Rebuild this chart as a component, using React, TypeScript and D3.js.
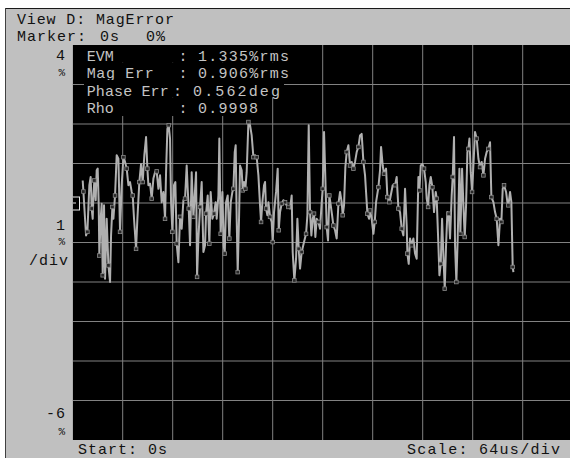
import React from "react";
import * as d3 from "d3";

// Trace: [time (us), magnitude error (%), symbol point flag]
const magErrorTrace: [number, number, number][] = [
  [12.8,0.57,0],[13.7,0.29,1],[15.8,-0.40,0],[17.1,-0.82,0],[18.8,-0.73,1],[21.3,0.45,0],[23.0,0.66,0],[24.3,-0.14,1],
  [25.6,-0.40,0],[26.5,0.19,0],[27.7,0.57,1],[29.4,0.07,0],[30.7,0.83,0],[32.0,0.87,0],[33.3,-0.06,0],[34.1,-1.33,1],
  [35.8,-0.40,0],[37.1,-0.02,0],[38.4,-1.83,1],[40.1,-0.06,0],[41.4,-1.92,0],[43.5,-0.40,0],[45.7,-1.58,1],[47.8,-2.00,0],
  [49.1,-0.82,0],[50.8,-0.10,1],[52.1,-0.40,0],[54.2,0.19,1],[56.3,1.21,0],[58.5,1.12,0],[60.6,-0.73,1],[62.7,0.45,0],
  [64.9,1.16,1],[67.0,1.04,0],[69.1,0.87,1],[71.3,0.45,0],[73.4,0.53,0],[75.5,0.28,0],[76.8,0.19,1],[78.5,-0.40,0],
  [81.1,-1.16,1],[82.8,-0.40,0],[85.3,0.53,1],[87.5,0.99,0],[89.6,0.53,1],[91.7,1.21,0],[93.9,1.67,0],[95.6,0.87,1],
  [96.9,0.45,0],[99.0,0.49,0],[101.1,0.11,1],[103.3,0.62,0],[105.4,0.78,0],[107.5,0.80,1],[109.7,0.36,0],[111.8,0.70,0],
  [113.9,0.02,0],[116.1,0.28,0],[118.2,-0.40,1],[119.5,0.78,0],[121.2,1.88,0],[122.9,1.97,1],[124.6,1.63,0],[125.9,0.02,0],
  [127.6,-0.73,1],[129.7,0.45,0],[131.4,0.53,0],[133.1,-1.03,1],[135.3,-1.50,0],[137.4,-0.35,1],[139.5,-0.65,0],[141.7,0.07,0],
  [143.8,0.11,1],[145.9,0.95,0],[147.2,0.36,0],[148.5,-0.14,1],[150.2,-1.07,0],[152.3,0.78,0],[154.5,-0.35,1],[156.2,0.19,0],
  [157.9,0.78,0],[159.2,-1.87,1],[160.9,-0.90,0],[163.0,-0.10,1],[165.1,0.53,0],[167.3,-1.24,0],[169.4,-1.07,0],[170.7,-0.27,1],
  [172.8,0.19,0],[174.9,-1.03,1],[176.6,0.28,0],[178.8,-0.40,0],[180.9,-0.27,1],[183.0,0.02,0],[184.3,-0.40,0],[186.5,0.19,0],
  [187.7,1.63,0],[189.4,-0.78,1],[191.6,0.28,0],[193.3,-1.07,0],[194.6,-1.28,1],[196.3,0.02,0],[198.4,0.19,0],[200.5,-0.90,1],
  [202.3,0.02,0],[204.4,0.28,0],[205.7,0.36,1],[207.4,1.29,0],[208.6,1.46,0],[209.9,-0.40,0],[211.2,-1.75,1],[212.9,-0.40,0],
  [214.2,0.95,0],[216.3,0.83,0],[217.6,0.32,1],[219.3,0.53,0],[221.0,0.36,1],[222.7,0.78,0],[224.9,2.05,1],[227.0,1.97,0],
  [229.1,1.71,0],[231.3,1.16,1],[233.4,1.21,0],[235.5,1.16,1],[237.7,0.70,0],[239.8,-0.06,0],[241.1,-0.48,1],[242.8,0.02,0],
  [244.9,0.45,0],[246.2,0.53,0],[247.5,-0.14,1],[249.2,-0.31,0],[250.5,0.02,0],[252.6,-0.35,1],[254.7,-0.48,0],[256.0,-0.99,1],
  [257.7,-0.23,0],[260.3,0.28,0],[262.4,0.87,0],[263.7,-0.69,1],[265.4,-0.23,0],[267.5,-0.02,1],[269.7,0.07,0],[271.8,0.02,1],
  [273.9,-0.06,0],[276.1,-0.10,1],[278.2,-0.14,0],[280.3,0.19,0],[281.6,-1.24,0],[283.7,-1.96,1],[285.9,-1.41,0],[287.6,-0.40,0],
  [289.3,-1.16,1],
  [291.0,-1.66,0],[293.1,-1.24,1],[296.1,-0.99,0],[298.7,-0.78,1],[300.4,-0.31,0],[302.1,1.97,0],[303.8,-0.23,1],[305.5,-0.82,0],
  [307.2,-0.40,0],[308.9,-0.27,1],[310.6,-0.86,0],[312.3,-0.40,0],[314.5,-0.48,1],[316.6,-0.65,0],[318.7,0.02,0],[320.0,0.36,1],
  [321.7,1.80,0],[323.4,0.62,0],[325.1,-0.61,1],[326.8,-0.95,0],[328.5,0.19,1],[330.3,-0.06,0],[332.0,-0.31,0],[333.7,-0.57,1],
  [335.8,-0.69,0],[337.9,-0.90,0],[340.1,-0.02,1],[342.2,0.28,0],[344.3,0.02,0],[345.6,-0.31,1],[347.3,-0.06,0],[349.0,0.91,0],
  [350.7,1.29,1],[352.9,1.46,0],[355.0,0.95,1],[357.1,1.04,0],[359.3,0.87,1],[361.4,1.04,0],[363.5,1.29,0],[365.7,1.42,1],
  [367.8,1.71,0],[369.9,1.75,0],[372.1,1.04,1],[374.2,0.70,0],[375.5,0.28,0],[377.2,-0.27,1],[379.3,-0.40,0],[380.6,-0.19,1],
  [382.7,-0.40,0],[384.9,-0.78,0],[386.6,-0.48,1],[388.3,0.02,0],[391.3,0.40,1],[393.4,0.83,0],[394.7,1.42,0],[396.8,0.95,0],
  [398.5,0.74,1],[401.1,0.87,0],[402.8,0.15,1],[405.4,0.02,1],[407.1,0.19,0],[409.6,0.45,0],[412.6,0.45,1],[414.7,0.66,0],
  [416.9,-0.14,1],[419.0,-0.23,0],[421.1,-0.65,1],[423.3,-0.82,0],[425.4,0.36,0],[427.5,-0.57,0],[428.4,-1.28,1],[430.1,-1.54,0],
  [431.8,-0.90,0],[433.9,-1.07,1],[436.1,-0.90,0],[438.2,-1.28,0],[440.3,-1.41,0],[442.5,0.66,0],[443.8,0.32,1],[445.5,0.95,0],
  [447.6,0.99,0],[449.7,0.87,1],[451.9,0.53,0],[453.1,0.11,0],[454.9,-0.10,1],[456.6,0.45,0],[458.3,0.66,0],[460.4,0.40,1],
  [462.5,-0.23,0],[464.7,0.28,0],[465.9,0.11,1],[468.1,-1.07,0],[469.4,-1.83,0],[471.1,-1.54,1],[472.8,-0.40,0],[474.5,-1.33,0],
  [476.2,-2.17,1],[477.9,-1.07,0],[479.6,-0.23,0],[481.3,-0.27,1],[483.0,-0.90,0],[485.1,0.19,0],[486.4,0.66,1],[488.1,1.67,0],
  [489.4,-1.07,0],[491.1,-2.00,1],[492.8,-0.90,0],[495.0,0.87,0],[496.2,-0.78,1],[498.4,0.87,0],[500.1,-0.06,0],[501.8,-0.86,1],
  [503.5,-0.06,0],[505.2,1.29,0],[506.5,1.37,1],[507.8,1.63,0],[509.5,0.78,0],[511.2,0.28,1],[512.9,0.95,0],[515.0,1.80,0],
  [517.1,1.63,1],[519.3,1.12,0],[521.4,0.91,1],[523.5,1.04,0],[525.7,0.70,1],[527.8,1.12,0],[529.9,1.29,0],[532.1,1.37,1],
  [534.2,1.54,0],[535.9,0.15,1],[538.5,0.02,0],[540.6,-0.23,0],[542.7,-0.40,1],[544.9,-1.07,0],[547.0,-0.40,0],[548.7,-0.48,1],
  [550.4,0.36,0],[552.1,0.45,1],[554.7,0.28,0],[556.4,0.02,0],[557.7,-0.06,1],[559.8,0.28,0],[561.5,0.02,0],[563.2,-1.62,1],
  [564.1,-1.75,0],
];

const timeDomain = [0, 640];
const valueDomain = [-6, 4];
const timeTicks = d3.range(64, 640, 64);
const valueTicks = d3.range(-5, 4, 1);
const refLevel = 0;

const headerTitle = "View D: MagError";
const markerLabel = ["Marker:", "0s", "0%"];
const statLabels = ["EVM", "Mag Err", "Phase Err", "Rho"];
const statValues = ["1.335%rms", "0.906%rms", "0.562deg", "0.9998"];
const footerStart = "Start: 0s";
const footerScale = "Scale: 64us/div";

const W = 570;
const H = 458;
const FONT = "'Liberation Mono', 'DejaVu Sans Mono', monospace";

export default function App() {
  const x = d3.scaleLinear().domain(timeDomain).range([72.7, 572.7]);
  const y = d3.scaleLinear().domain(valueDomain).range([440, 45]);
  const line = d3
    .line<[number, number, number]>()
    .x((d) => x(d[0]))
    .y((d) => y(d[1]));
  const symbols = magErrorTrace.filter((d) => d[2] === 1);

  const txt = { fontFamily: FONT, fontSize: 15, letterSpacing: 1 } as React.CSSProperties;
  const plotTxt = { ...txt, fill: "#c4c4c4" };

  // stat rows layout
  const rowBase = [60.7, 78.3, 95.7, 112.7];
  const rowTop = [45, 62.5, 80, 97.5];
  const rowBottom = [62.5, 80, 97.5, 116];
  const rowRight = [293, 293, 284, 263];
  const colonX = [178.5, 178.5, 173, 178.5];
  const valX = [198, 198, 193, 198];
  const valLen = [92, 92, 88, 61];
  const labLen = [28, 68, 83, 28];

  return (
    <svg
      width={W}
      height={H}
      style={{ position: "absolute", left: 0, top: 0, background: "#fff" }}
    >
      <rect x={5} y={8} width={W - 5} height={H - 8} fill="#c0c0c0" />
      <line x1={5} x2={W} y1={8.5} y2={8.5} stroke="#1a1a1a" strokeWidth={1.2} />
      <line x1={5.5} x2={5.5} y1={8} y2={H} stroke="#404040" strokeWidth={1} />

      <defs>
        <clipPath id="plotClip">
          <rect x={72.7} y={45} width={500} height={395} />
        </clipPath>
      </defs>

      <g clipPath="url(#plotClip)">
        <rect x={72.7} y={45} width={500} height={395} fill="#000" />
        {timeTicks.map((t) => (
          <line key={"v" + t} x1={x(t)} x2={x(t)} y1={45} y2={440} stroke="#828282" strokeWidth={1} />
        ))}
        {valueTicks.map((v) => (
          <line key={"h" + v} x1={72.7} x2={572.7} y1={y(v)} y2={y(v)} stroke="#828282" strokeWidth={1} />
        ))}
        <path d={line(magErrorTrace) || ""} fill="none" stroke="#b0b0b0" strokeWidth={2} strokeLinejoin="round" />
        {symbols.map((d, i) => (
          <rect
            key={"s" + i}
            x={x(d[0]) - 1.8}
            y={y(d[1]) - 1.8}
            width={3.6}
            height={3.6}
            fill="#2a2a2a"
            stroke="#8a8a8a"
            strokeWidth={0.8}
          />
        ))}

        {statLabels.map((lab, i) => (
          <g key={"r" + i}>
            <rect x={84} y={rowTop[i]} width={rowRight[i] - 84} height={rowBottom[i] - rowTop[i]} fill="#000" />
            <text x={86.7} y={rowBase[i]} style={plotTxt} textLength={labLen[i]} lengthAdjust="spacing">
              {lab}
            </text>
            <text x={colonX[i]} y={rowBase[i]} style={plotTxt}>
              :
            </text>
            <text x={valX[i]} y={rowBase[i]} style={plotTxt} textLength={valLen[i]} lengthAdjust="spacing">
              {statValues[i]}
            </text>
          </g>
        ))}

        <rect x={72.5} y={y(refLevel) - 6} width={7} height={13} fill="#000" stroke="#e8e8e8" strokeWidth={1} />
        <line x1={73} x2={76} y1={y(refLevel)} y2={y(refLevel)} stroke="#e8e8e8" strokeWidth={1} />
      </g>

      <g style={{ ...txt, fill: "#111" }}>
        <text x={17} y={24} textLength={158} lengthAdjust="spacing">{headerTitle}</text>
        <text x={17} y={40.5}>{markerLabel[0]}</text>
        <text x={100} y={40.5}>{markerLabel[1]}</text>
        <text x={146} y={40.5}>{markerLabel[2]}</text>

        <text x={66} y={60} textAnchor="end">4</text>
        <text x={66} y={76} textAnchor="end" style={{ fontSize: 11 }}>%</text>
        <text x={66} y={230} textAnchor="end">1</text>
        <text x={66} y={245} textAnchor="end" style={{ fontSize: 11 }}>%</text>
        <text x={69} y={265} textAnchor="end">/div</text>
        <text x={66} y={418} textAnchor="end">-6</text>
        <text x={66} y={435} textAnchor="end" style={{ fontSize: 11 }}>%</text>

        <text x={78} y={454}>{footerStart}</text>
        <text x={407} y={454} textLength={154} lengthAdjust="spacing">{footerScale}</text>
      </g>
    </svg>
  );
}
